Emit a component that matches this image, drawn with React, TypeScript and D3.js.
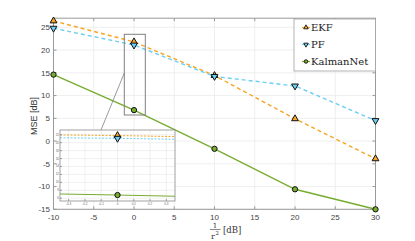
import React, { useRef, useEffect } from 'react';
import * as d3 from 'd3';

// values
const snrDb = [-10, 0, 10, 20, 30];
const ekfMse = [26.4, 21.8, 14.4, 4.9, -3.9];
const pfMse = [24.8, 21.1, 14.2, 12.1, 4.5];
const kalmanNetMse = [14.6, 6.8, -1.7, -10.6, -15.0];

const xTicks = [-10, -5, 0, 5, 10, 15, 20, 25, 30];
const yTicks = [-15, -10, -5, 0, 5, 10, 15, 20, 25];
const insetXTicks = [-0.3, -0.2, -0.1, 0, 0.1, 0.2, 0.3];
const insetYTicks = [6, 8, 10, 12, 14, 16, 18, 20, 22];

const seriesNames = ['EKF', 'PF', 'KalmanNet'];
const seriesValues = [ekfMse, pfMse, kalmanNetMse];

const colors = ['#f5a623', '#6dcff2', '#77ac30'];
const dashes = ['4,3', '4,3', null];
const insetDashes = ['2,1.5', '2,1.5', null];

const markerPath = (i: number, size: number) => {
  if (i === 2) return d3.symbol().type(d3.symbolCircle).size(size * 1.1)();
  return d3.symbol().type(d3.symbolTriangle).size(size)();
};

const App = () => {
  const svgRef = useRef<SVGSVGElement>(null);

  useEffect(() => {
    const svg = d3.select(svgRef.current);
    svg.selectAll('*').remove();

    const x = d3.scaleLinear().domain([-10, 30]).range([53.5, 375.5]);
    const y = d3.scaleLinear().domain([-15, 27]).range([209.3, 18.2]);
    const [x0, x1] = x.range();
    const [y0, y1] = y.range();

    const sans = 'Liberation Sans, Arial, sans-serif';
    const serif = 'DejaVu Serif, serif';

    // grid
    const grid = svg.append('g').attr('stroke', '#ebebeb').attr('stroke-width', 0.8);
    xTicks.forEach(t => grid.append('line').attr('x1', x(t)).attr('x2', x(t)).attr('y1', y0).attr('y2', y1));
    yTicks.forEach(t => grid.append('line').attr('x1', x0).attr('x2', x1).attr('y1', y(t)).attr('y2', y(t)));

    // box with inward ticks on all sides
    const axes = svg.append('g').attr('stroke', '#9a9a9a').attr('stroke-width', 1);
    axes.append('rect').attr('x', x0).attr('y', y1).attr('width', x1 - x0).attr('height', y0 - y1).attr('fill', 'none');
    xTicks.forEach(t => {
      axes.append('line').attr('x1', x(t)).attr('x2', x(t)).attr('y1', y0).attr('y2', y0 - 3);
      axes.append('line').attr('x1', x(t)).attr('x2', x(t)).attr('y1', y1).attr('y2', y1 + 3);
    });
    yTicks.forEach(t => {
      axes.append('line').attr('x1', x0).attr('x2', x0 + 3).attr('y1', y(t)).attr('y2', y(t));
      axes.append('line').attr('x1', x1).attr('x2', x1 - 3).attr('y1', y(t)).attr('y2', y(t));
    });

    // tick labels
    svg.append('g').selectAll('text').data(xTicks).enter().append('text')
      .attr('x', d => x(d)).attr('y', 219.5)
      .attr('text-anchor', 'middle').attr('font-family', sans).attr('font-size', 8).attr('fill', '#444')
      .text(d => d);
    svg.append('g').selectAll('text').data(yTicks).enter().append('text')
      .attr('x', 50).attr('y', d => y(d) + 2.8)
      .attr('text-anchor', 'end').attr('font-family', sans).attr('font-size', 8).attr('fill', '#444')
      .text(d => d);

    // axis labels
    svg.append('text')
      .attr('transform', 'translate(37,116) rotate(-90)')
      .attr('text-anchor', 'middle').attr('font-family', sans).attr('font-size', 9).attr('fill', '#333')
      .text('MSE [dB]');
    const xl = svg.append('g').attr('font-family', serif).attr('fill', '#333');
    xl.append('text').attr('x', 215).attr('y', 228).attr('text-anchor', 'middle').attr('font-size', 7).text('1');
    xl.append('line').attr('x1', 210).attr('x2', 220.5).attr('y1', 229.5).attr('y2', 229.5).attr('stroke', '#333').attr('stroke-width', 0.6);
    xl.append('text').attr('x', 211).attr('y', 238.5).attr('font-size', 8).text('r');
    xl.append('text').attr('x', 215.5).attr('y', 235).attr('font-size', 5.5).text('2');
    xl.append('text').attr('x', 223).attr('y', 232.5).attr('font-size', 8.5).text('[dB]');

    // series
    const lineFor = (sx: d3.ScaleLinear<number, number>, sy: d3.ScaleLinear<number, number>) =>
      d3.line<number>().x((_, i) => sx(snrDb[i])).y(d => sy(d));

    const main = svg.append('g');
    seriesValues.forEach((vals, s) => {
      main.append('path')
        .attr('d', lineFor(x, y)(vals))
        .attr('fill', 'none').attr('stroke', colors[s]).attr('stroke-width', 1.4)
        .attr('stroke-dasharray', dashes[s]);
    });
    seriesValues.forEach((vals, s) => {
      vals.forEach((v, i) => {
        main.append('path')
          .attr('d', markerPath(s, 20))
          .attr('transform', `translate(${x(snrDb[i])},${y(v)})${s === 1 ? ' rotate(180)' : ''}`)
          .attr('fill', colors[s]).attr('stroke', '#111').attr('stroke-width', 1);
      });
    });

    // zoom box and connector
    svg.append('rect').attr('x', 124.3).attr('y', 34.3).attr('width', 21).attr('height', 80.7)
      .attr('fill', 'none').attr('stroke', '#808080').attr('stroke-width', 1);
    svg.append('line').attr('x1', 124.3).attr('y1', 73).attr('x2', 101).attr('y2', 130)
      .attr('stroke', '#808080').attr('stroke-width', 0.8);

    // inset
    const ix = d3.scaleLinear().domain([-0.353, 0.353]).range([60, 175]);
    const iy = d3.scaleLinear().domain([5.3, 23.2]).range([201, 130]);
    const inset = svg.append('g');
    inset.append('rect').attr('x', 60).attr('y', 130).attr('width', 115).attr('height', 71).attr('fill', '#fff');
    const ig = inset.append('g').attr('stroke', '#e6e6e6').attr('stroke-width', 0.6);
    insetXTicks.forEach(t => ig.append('line').attr('x1', ix(t)).attr('x2', ix(t)).attr('y1', 130).attr('y2', 201));
    insetYTicks.forEach(t => ig.append('line').attr('x1', 60).attr('x2', 175).attr('y1', iy(t)).attr('y2', iy(t)));

    svg.append('defs').append('clipPath').attr('id', 'insetClip')
      .append('rect').attr('x', 60).attr('y', 130).attr('width', 115).attr('height', 71);
    const il = inset.append('g').attr('clip-path', 'url(#insetClip)');
    seriesValues.forEach((vals, s) => {
      il.append('path')
        .attr('d', lineFor(ix, iy)(vals))
        .attr('fill', 'none').attr('stroke', colors[s]).attr('stroke-width', 1)
        .attr('stroke-dasharray', insetDashes[s]);
    });
    seriesValues.forEach((vals, s) => {
      il.append('path')
        .attr('d', markerPath(s, 20))
        .attr('transform', `translate(${ix(0)},${iy(vals[1])})${s === 1 ? ' rotate(180)' : ''}`)
        .attr('fill', colors[s]).attr('stroke', '#111').attr('stroke-width', 1);
    });

    const ia = inset.append('g').attr('stroke', '#8a8a8a').attr('stroke-width', 0.8);
    ia.append('rect').attr('x', 60).attr('y', 130).attr('width', 115).attr('height', 71).attr('fill', 'none');
    insetXTicks.forEach(t => {
      ia.append('line').attr('x1', ix(t)).attr('x2', ix(t)).attr('y1', 201).attr('y2', 199);
    });
    insetYTicks.forEach(t => {
      ia.append('line').attr('x1', 60).attr('x2', 62).attr('y1', iy(t)).attr('y2', iy(t));
    });
    inset.append('g').selectAll('text').data(insetXTicks).enter().append('text')
      .attr('x', d => ix(d)).attr('y', 205)
      .attr('text-anchor', 'middle').attr('font-family', sans).attr('font-size', 3).attr('fill', '#666')
      .text(d => d);
    inset.append('g').selectAll('text').data(insetYTicks).enter().append('text')
      .attr('x', 59).attr('y', d => iy(d) + 1)
      .attr('text-anchor', 'end').attr('font-family', sans).attr('font-size', 3).attr('fill', '#666')
      .text(d => d);

    // legend
    const legend = svg.append('g');
    legend.append('rect').attr('x', 294).attr('y', 19).attr('width', 81.5).attr('height', 52)
      .attr('fill', '#fff').attr('stroke', '#a0a0a0').attr('stroke-width', 0.8);
    seriesNames.forEach((name, s) => {
      const ly = 27.5 + s * 17;
      legend.append('line').attr('x1', 302).attr('x2', 310).attr('y1', ly).attr('y2', ly)
        .attr('stroke', colors[s]).attr('stroke-width', 1.2);
      legend.append('path')
        .attr('d', markerPath(s, 9))
        .attr('transform', `translate(306,${ly})${s === 1 ? ' rotate(180)' : ''}`)
        .attr('fill', colors[s]).attr('stroke', '#111').attr('stroke-width', 0.9);
      legend.append('text').attr('x', 311).attr('y', ly + 3.6)
        .attr('font-family', serif).attr('font-size', 10).attr('fill', '#222')
        .text(name);
    });
  }, []);

  return (
    <svg
      ref={svgRef}
      width={415}
      height={241}
      style={{ position: 'absolute', left: 0, top: 0, background: '#fff' }}
    />
  );
};

export default App;
